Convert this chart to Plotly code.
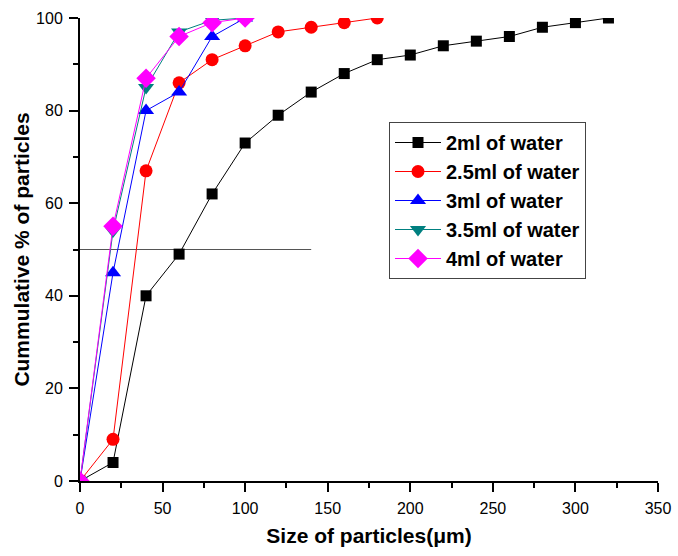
import plotly.graph_objects as go

x_2ml = [0, 20, 40, 60, 80, 100, 120, 140, 160, 180, 200, 220, 240, 260, 280, 300, 320]
y_2ml = [0, 4, 40, 49, 62, 73, 79, 84, 88, 91, 92, 94, 95, 96, 98, 99, 100]
x_25ml = [0, 20, 40, 60, 80, 100, 120, 140, 160, 180]
y_25ml = [0, 9, 67, 86, 91, 94, 97, 98, 99, 100]
x_3ml = [0, 20, 40, 60, 80, 100]
y_3ml = [0, 45, 80, 84, 96, 100]
x_35ml = [0, 20, 40, 60, 80, 100]
y_35ml = [0, 54, 85, 97, 99.5, 100]
x_4ml = [0, 20, 40, 60, 80, 100]
y_4ml = [0, 55, 87, 96, 99, 100]
ref_x = [0, 140]
ref_y = [50, 50]

FONT = "Liberation Sans, Arial, sans-serif"

fig = go.Figure()
fig.add_trace(go.Scatter(x=ref_x, y=ref_y, mode="lines", line=dict(color="#555555", width=1),
                         showlegend=False, hoverinfo="skip"))
series = [
    ("2ml of water", x_2ml, y_2ml, "black", "square", 11),
    ("2.5ml of water", x_25ml, y_25ml, "red", "circle", 13),
    ("3ml of water", x_3ml, y_3ml, "blue", "triangle-up", 14),
    ("3.5ml of water", x_35ml, y_35ml, "#008080", "triangle-down", 14),
    ("4ml of water", x_4ml, y_4ml, "magenta", "diamond", 15),
]
for name, xs, ys, col, sym, sz in series:
    fig.add_trace(go.Scatter(x=xs, y=ys, mode="lines+markers", name="<b>" + name + "</b>",
                             line=dict(color=col, width=1),
                             marker=dict(symbol=sym, size=sz, color=col, line=dict(width=0))))

axis_common = dict(showline=True, linecolor="black", linewidth=2, ticks="outside", ticklen=9,
                   tickwidth=1.5, tickcolor="black", showgrid=False, zeroline=False,
                   automargin=False, ticklabelstandoff=3,
                   tickfont=dict(family=FONT, size=16, color="black"))

fig.update_layout(
    width=678, height=556,
    margin=dict(l=80, r=20, t=18, b=75),
    paper_bgcolor="white", plot_bgcolor="white",
    font=dict(family=FONT, color="black"),
    xaxis=dict(range=[0, 350], dtick=50, tick0=0,
               title=dict(text="<b>Size of particles(μm)</b>", font=dict(family=FONT, size=21), standoff=12),
               minor=dict(dtick=25, ticks="outside", ticklen=5, tickwidth=1.5, tickcolor="black"),
               **axis_common),
    yaxis=dict(range=[0, 100], dtick=20, tick0=0,
               title=dict(text="<b>Cummulative % of particles</b>", font=dict(family=FONT, size=21), standoff=1),
               minor=dict(dtick=10, ticks="outside", ticklen=5, tickwidth=1.5, tickcolor="black"),
               **axis_common),
    legend=dict(x=(389 - 80) / 578, y=(481 - 122) / 463, xanchor="left", yanchor="top",
                bordercolor="#444444", borderwidth=1, bgcolor="white",
                font=dict(family=FONT, size=20, color="black"),
                itemwidth=46, tracegroupgap=0),
)

fig.write_html("out.html", post_script="document.body.style.margin='0';",
               config={"displayModeBar": False})
